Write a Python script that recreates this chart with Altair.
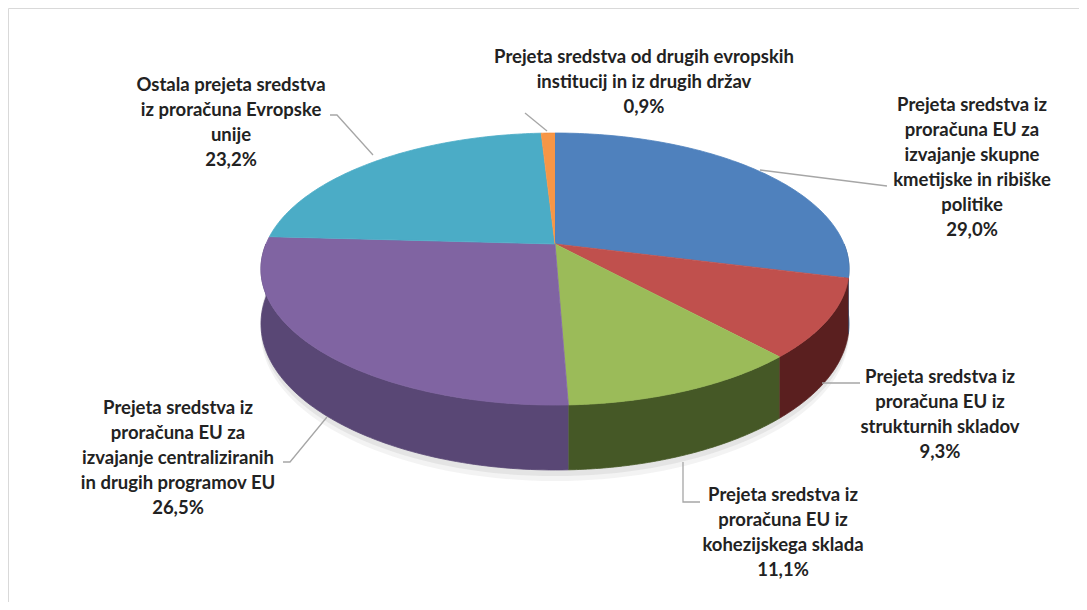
import altair as alt
import pandas as pd

# ---------------- data ----------------
names = [
    "Skupna kmetijska in ribiška politika",
    "Strukturni skladi",
    "Kohezijski sklad",
    "Centralizirani in drugi programi EU",
    "Ostala sredstva iz proračuna EU",
    "Druge evropske institucije in druge države",
]
values = [29.0, 9.3, 11.1, 26.5, 23.2, 0.9]
label_lines = [
    ["Prejeta sredstva iz", "proračuna  EU za", "izvajanje skupne", "kmetijske in ribiške", "politike"],
    ["Prejeta sredstva iz", "proračuna  EU iz", "strukturnih  skladov"],
    ["Prejeta sredstva iz", "proračuna  EU iz", "kohezijskega sklada"],
    ["Prejeta sredstva iz", "proračuna  EU za", "izvajanje  centraliziranih", "in drugih programov EU"],
    ["Ostala prejeta sredstva", "iz proračuna  Evropske", "unije"],
    ["Prejeta sredstva od drugih evropskih", "institucij in iz drugih držav"],
]

# ---------------- styles / layout ----------------
top_colors = ["#4F81BD", "#C0504D", "#9BBB59", "#8064A2", "#4BACC6", "#F79646"]
side_colors = ["#2E4D72", "#5A1F1F", "#455826", "#594775", "#2D7A8E", "#A85E1C"]

# perspective projection of the pie (page px)
CX, AY = 555, 244      # apex of the slices
RX, RY = 289, 131.4    # radii
K = 0.184              # perspective strength
DEPTH = 53
N = 90

label_pos = [(972, 105), (940, 377), (783, 495), (178, 408), (231, 85), (644, 57)]
leader_pts = [
    [(760, 170), (887, 186)],
    [(822, 383), (860, 383)],
    [(683, 462), (683, 502), (700, 502)],
    [(327, 417), (290, 462), (283, 462)],
    [(373, 155), (337, 115), (330, 115)],
    [(547, 131), (525, 113)],
]

W, H = 1071, 594
xs = alt.Scale(domain=[8, 8 + W], nice=False, zero=False)
ys = alt.Scale(domain=[8, 8 + H], nice=False, zero=False, reverse=True)

slices = pd.DataFrame({"name": names, "value": values, "idx": list(range(len(names)))})

base = (
    alt.Chart(slices)
    .transform_window(cum="sum(value)", sort=[alt.SortField("idx")], frame=[None, 0])
    .transform_joinaggregate(total="sum(value)")
    .transform_calculate(
        a0="2*PI*(datum.cum-datum.value)/datum.total",
        a1="2*PI*datum.cum/datum.total",
    )
)

S = f"(1/(1+{K}*cos(datum.th)))"

top = (
    base.transform_calculate(k=f"sequence(0,{N + 2})")
    .transform_flatten(["k"])
    .transform_calculate(th=f"datum.a0+(datum.a1-datum.a0)*(datum.k-1)/{N}")
    .transform_calculate(
        px=f"datum.k==0 ? {CX} : {CX}+{RX}*sin(datum.th)*{S}",
        py=f"datum.k==0 ? {AY} : {AY}-{RY}*cos(datum.th)*{S}",
    )
    .mark_line(filled=True, strokeWidth=0.8, strokeJoin="round")
    .encode(
        x=alt.X("px:Q", scale=xs, axis=None),
        y=alt.Y("py:Q", scale=ys, axis=None),
        color=alt.Color("name:N", scale=alt.Scale(domain=names, range=top_colors), legend=None),
        stroke=alt.Stroke("name:N", scale=alt.Scale(domain=names, range=top_colors), legend=None),
        order=alt.Order("k:Q"),
    )
)


def wall(off0, off1, colors=None, color=None, opacity=1.0, whole=False):
    src = base
    if whole:
        src = src.transform_aggregate(cnt="count()").transform_calculate(
            b0="PI/2", b1="3*PI/2", name="'shadow'")
    else:
        src = src.transform_calculate(b0="max(datum.a0, PI/2)", b1="min(datum.a1, 3*PI/2)")
    ch = (
        src.transform_filter("datum.b1 > datum.b0")
        .transform_calculate(k=f"sequence(0,{2 * N + 2})")
        .transform_flatten(["k"])
        .transform_calculate(j=f"datum.k<={N} ? datum.k : {2 * N + 1}-datum.k")
        .transform_calculate(th=f"datum.b0+(datum.b1-datum.b0)*datum.j/{N}")
        .transform_calculate(
            px=f"{CX}+{RX}*sin(datum.th)*{S}",
            py=f"{AY}-{RY}*cos(datum.th)*{S}+(datum.k>{N} ? {off1} : {off0})*{S}",
        )
    )
    enc = dict(
        x=alt.X("px:Q", scale=xs, axis=None),
        y=alt.Y("py:Q", scale=ys, axis=None),
        order=alt.Order("k:Q"),
    )
    if colors is not None:
        sc = alt.Scale(domain=names, range=colors)
        return ch.mark_line(filled=True, strokeWidth=0.8, strokeJoin="round").encode(
            color=alt.Color("name:N", scale=sc, legend=None),
            stroke=alt.Stroke("name:N", scale=sc, legend=None),
            **enc,
        )
    return ch.mark_line(filled=True, color=color, strokeWidth=0, opacity=opacity).encode(
        detail="name:N", **enc)


shadow1 = wall(DEPTH - 4, DEPTH + 9, color="#D0D0D0", opacity=0.25, whole=True)
shadow2 = wall(DEPTH - 4, DEPTH + 5, color="#C8C8C8", opacity=0.35, whole=True)
side = wall(0, DEPTH, colors=side_colors)

lead_rows = []
for i, pts in enumerate(leader_pts):
    for o, (x, y) in enumerate(pts):
        lead_rows.append({"lid": i, "ord": o, "lx": x, "ly": y})
leaders = (
    alt.Chart(pd.DataFrame(lead_rows))
    .mark_line(color="#A6A6A6", strokeWidth=1.3)
    .encode(
        x=alt.X("lx:Q", scale=xs, axis=None),
        y=alt.Y("ly:Q", scale=ys, axis=None),
        detail="lid:N",
        order="ord:Q",
    )
)

texts = []
for lines, v in zip(label_lines, values):
    pct = f"{v:.1f}".replace(".", ",") + "%"
    texts.append("\n".join(lines + [pct]))
lab_df = pd.DataFrame({
    "txt": texts,
    "tx": [p[0] for p in label_pos],
    "ty": [p[1] for p in label_pos],
})
labels = (
    alt.Chart(lab_df)
    .mark_text(
        font="Lato", fontWeight="bold", fontSize=18.5, lineHeight=25,
        lineBreak="\n", align="center", baseline="middle", color="#222222",
    )
    .encode(
        x=alt.X("tx:Q", scale=xs, axis=None),
        y=alt.Y("ty:Q", scale=ys, axis=None),
        text="txt:N",
    )
)

chart = (
    alt.layer(shadow1, shadow2, side, top, leaders, labels)
    .resolve_scale(color="independent", stroke="independent")
    .properties(width=W, height=H, autosize=alt.AutoSizeParams(type="none"), padding=0)
    .configure_view(stroke="#D9D9D9", strokeWidth=1)
)

chart.save("out.html", embed_options={"renderer": "svg", "actions": False})
